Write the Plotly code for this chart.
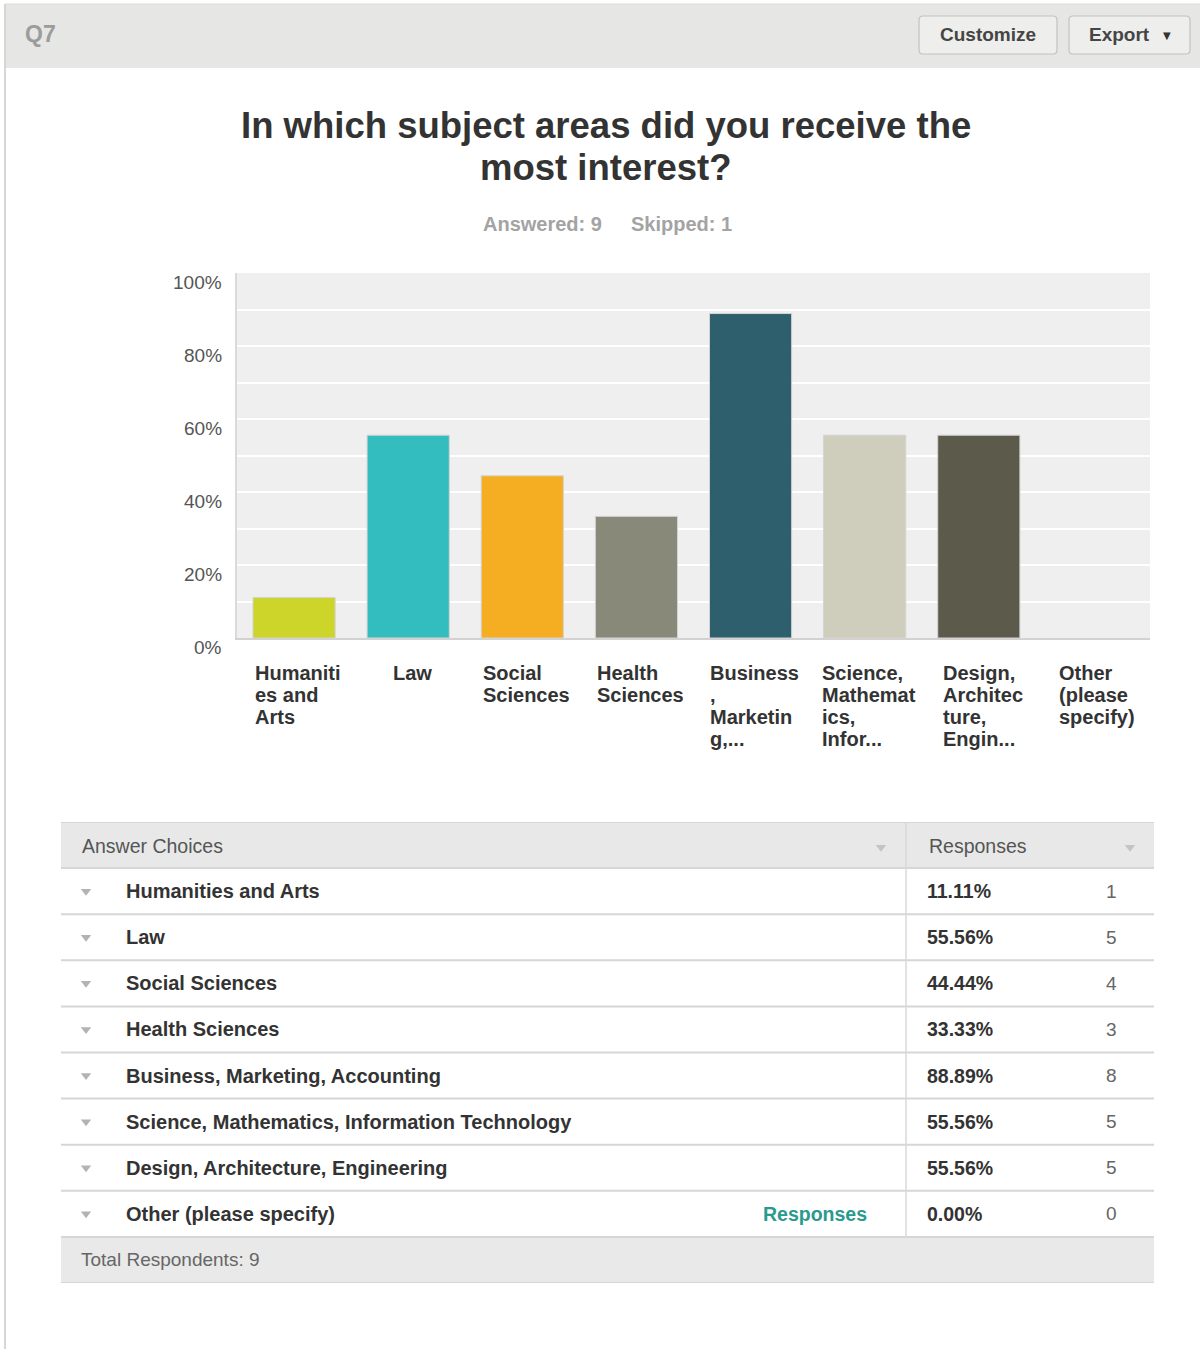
import plotly.graph_objects as go

# ---------------------------------------------------------------- data
categories = [
    "Humanities and Arts",
    "Law",
    "Social Sciences",
    "Health Sciences",
    "Business, Marketing, Accounting",
    "Science, Mathematics, Information Technology",
    "Design, Architecture, Engineering",
    "Other (please specify)",
]
axis_labels = [
    "Humaniti<br>es and<br>Arts",
    "Law",
    "Social<br>Sciences",
    "Health<br>Sciences",
    "Business<br>,<br>Marketin<br>g,...",
    "Science,<br>Mathemat<br>ics,<br>Infor...",
    "Design,<br>Architec<br>ture,<br>Engin...",
    "Other<br>(please<br>specify)",
]
percent = [11.11, 55.56, 44.44, 33.33, 88.89, 55.56, 55.56, 0.00]
counts = [1, 5, 4, 3, 8, 5, 5, 0]
bar_colors = ["#cdd42a", "#33bdbe", "#f5ae21", "#89897a",
              "#2e5f6d", "#cfcdbb", "#5c5a4b", "#8fa6b0"]
y_ticks = [0, 20, 40, 60, 80, 100]
answered, skipped = 9, 1
total_respondents = 9
question_id = "Q7"
title_lines = ["In which subject areas did you receive the", "most interest?"]

# ---------------------------------------------------------------- page geometry (pixels)
W, H = 1200, 1349
PLOT_L, PLOT_R, PLOT_T, PLOT_B = 237, 1150, 273, 638
TAB_L, TAB_R, TAB_T, TAB_B = 61, 1154, 822, 1283
N_ROWS = len(categories) + 2          # header + answers + total
COL_SPLIT = 906

FONT = "Liberation Sans, Arial, Helvetica, sans-serif"


def fx(x):
    return x / W


def fy(y):
    return 1 - y / H


def rounded_rect(x0, y0, x1, y1, r):
    """SVG path in paper units for a rounded rectangle given in pixels."""
    pts = [
        f"M {fx(x0 + r)} {fy(y0)}",
        f"L {fx(x1 - r)} {fy(y0)}",
        f"Q {fx(x1)} {fy(y0)} {fx(x1)} {fy(y0 + r)}",
        f"L {fx(x1)} {fy(y1 - r)}",
        f"Q {fx(x1)} {fy(y1)} {fx(x1 - r)} {fy(y1)}",
        f"L {fx(x0 + r)} {fy(y1)}",
        f"Q {fx(x0)} {fy(y1)} {fx(x0)} {fy(y1 - r)}",
        f"L {fx(x0)} {fy(y0 + r)}",
        f"Q {fx(x0)} {fy(y0)} {fx(x0 + r)} {fy(y0)}",
        "Z",
    ]
    return " ".join(pts)


fig = go.Figure()

# ---------------------------------------------------------------- bar chart
fig.add_trace(go.Bar(
    x=categories,
    y=percent,
    marker=dict(color=bar_colors,
                line=dict(color="#d4d4d4", width=[1 if v > 0 else 0 for v in percent])),
    hoverinfo="skip",
    xaxis="x", yaxis="y",
))

# ---------------------------------------------------------------- table markers (row arrows)
fig.add_trace(go.Scatter(
    x=[86] * len(categories),
    y=[i + 1.5 for i in range(len(categories))],
    mode="markers",
    marker=dict(symbol="triangle-down", size=9, color="#b3b3b3"),
    hoverinfo="skip",
    xaxis="x2", yaxis="y2",
))
fig.add_trace(go.Scatter(
    x=[881, 1130],
    y=[0.55, 0.55],
    mode="markers",
    marker=dict(symbol="triangle-down", size=9, color="#c4c4c4"),
    hoverinfo="skip",
    xaxis="x2", yaxis="y2",
))

shapes = []
annotations = []

# ---------------------------------------------------------------- page frame and header strip
shapes.append(dict(type="rect", xref="paper", yref="paper",
                   x0=fx(5), x1=fx(W), y0=fy(68), y1=fy(4),
                   fillcolor="#e6e6e4", line=dict(width=0), layer="below"))
shapes.append(dict(type="line", xref="paper", yref="paper",
                   x0=fx(5), x1=fx(W), y0=fy(4), y1=fy(4),
                   line=dict(color="#dadada", width=1)))
shapes.append(dict(type="line", xref="paper", yref="paper",
                   x0=fx(5), x1=fx(5), y0=fy(4), y1=fy(H),
                   line=dict(color="#d6d6d6", width=2)))

annotations.append(dict(xref="paper", yref="paper", x=fx(23), y=fy(34),
                        xanchor="left", yanchor="middle", showarrow=False,
                        text=f"<b>{question_id}</b>",
                        font=dict(family=FONT, size=23, color="#9c9c9c")))

# header buttons
for (bx0, bx1) in [(919, 1057), (1069, 1190)]:
    shapes.append(dict(type="path", xref="paper", yref="paper",
                       path=rounded_rect(bx0, 16, bx1, 54, 4),
                       fillcolor="#eeeeec", line=dict(color="#c2c2c0", width=1.2)))
annotations.append(dict(xref="paper", yref="paper", x=fx(988), y=fy(35),
                        xanchor="center", yanchor="middle", showarrow=False,
                        text="<b>Customize</b>",
                        font=dict(family=FONT, size=19, color="#454545")))
annotations.append(dict(xref="paper", yref="paper", x=fx(1087), y=fy(35),
                        xanchor="left", yanchor="middle", showarrow=False,
                        text="<b>Export</b>",
                        font=dict(family=FONT, size=19, color="#454545")))
annotations.append(dict(xref="paper", yref="paper", x=fx(1167), y=fy(36),
                        xanchor="center", yanchor="middle", showarrow=False,
                        text="▼", font=dict(family="DejaVu Sans", size=10, color="#333333")))

# ---------------------------------------------------------------- titles
for i, line in enumerate(title_lines):
    annotations.append(dict(xref="paper", yref="paper", x=0.505, y=fy(125 + 42 * i),
                            xanchor="center", yanchor="middle", showarrow=False,
                            text=f"<b>{line}</b>",
                            font=dict(family=FONT, size=36.5, color="#333333")))

annotations.append(dict(xref="paper", yref="paper", x=fx(604), y=fy(224),
                        xanchor="right", yanchor="middle", showarrow=False,
                        text=f"<b>Answered: {answered}</b>",
                        font=dict(family=FONT, size=20, color="#a3a3a3")))
annotations.append(dict(xref="paper", yref="paper", x=fx(629), y=fy(224),
                        xanchor="left", yanchor="middle", showarrow=False,
                        text=f"<b>Skipped: {skipped}</b>",
                        font=dict(family=FONT, size=20, color="#a3a3a3")))

# ---------------------------------------------------------------- y tick labels (sit just below grid lines)
for t in y_ticks:
    annotations.append(dict(xref="paper", yref="y", x=fx(224), y=t,
                            xanchor="right", yanchor="middle", yshift=-9,
                            showarrow=False, text=f"{t}%",
                            font=dict(family=FONT, size=19, color="#555555")))

# ---------------------------------------------------------------- category labels under the bars
for cat, lab in zip(categories, axis_labels):
    annotations.append(dict(xref="x", yref="paper", x=cat, y=fy(660),
                            xanchor="center", yanchor="top", align="left",
                            xshift=4, showarrow=False,
                            text=f"<span style='font-size:20px'><b>{lab}</b></span>",
                            font=dict(family=FONT, size=17, color="#333333")))

# ---------------------------------------------------------------- table
# body, header and footer fills
shapes.append(dict(type="rect", xref="x2", yref="y2", x0=TAB_L, x1=TAB_R, y0=0, y1=N_ROWS,
                   fillcolor="#ffffff", line=dict(width=0), layer="below"))
shapes.append(dict(type="rect", xref="x2", yref="y2", x0=TAB_L, x1=TAB_R, y0=0, y1=1,
                   fillcolor="#e8e8e8", line=dict(width=0), layer="below"))
shapes.append(dict(type="rect", xref="x2", yref="y2", x0=TAB_L, x1=TAB_R,
                   y0=N_ROWS - 1, y1=N_ROWS,
                   fillcolor="#e9e9e9", line=dict(width=0), layer="below"))
# horizontal rules
for r in range(N_ROWS + 1):
    shapes.append(dict(type="line", xref="x2", yref="y2", x0=TAB_L, x1=TAB_R, y0=r, y1=r,
                       line=dict(color="#d6d6d6", width=2)))
# column divider
shapes.append(dict(type="line", xref="x2", yref="y2", x0=COL_SPLIT, x1=COL_SPLIT,
                   y0=0, y1=N_ROWS - 1, line=dict(color="#d9d9d9", width=1.5)))

cell_font = dict(family=FONT, size=20, color="#333333")
head_font = dict(family=FONT, size=19.5, color="#555555")

annotations.append(dict(xref="x2", yref="y2", x=80, y=0.52, xanchor="left",
                        yanchor="middle", showarrow=False, text="Answer Choices",
                        font=head_font))
annotations.append(dict(xref="x2", yref="y2", x=927, y=0.52, xanchor="left",
                        yanchor="middle", showarrow=False, text="Responses",
                        font=head_font))

for i, (name, p, c) in enumerate(zip(categories, percent, counts)):
    yc = i + 1.5
    annotations.append(dict(xref="x2", yref="y2", x=124, y=yc, xanchor="left",
                            yanchor="middle", showarrow=False,
                            text=f"<b>{name}</b>", font=cell_font))
    annotations.append(dict(xref="x2", yref="y2", x=925, y=yc, xanchor="left",
                            yanchor="middle", showarrow=False,
                            text=f"<b>{p:.2f}%</b>",
                            font=dict(family=FONT, size=19.5, color="#333333")))
    annotations.append(dict(xref="x2", yref="y2", x=1111, y=yc, xanchor="center",
                            yanchor="middle", showarrow=False,
                            text=f"{c}", font=dict(family=FONT, size=19, color="#666666")))
    if name.startswith("Other"):
        annotations.append(dict(xref="x2", yref="y2", x=869, y=yc, xanchor="right",
                                yanchor="middle", showarrow=False,
                                text="<b>Responses</b>",
                                font=dict(family=FONT, size=19.5, color="#2a9a8d")))

annotations.append(dict(xref="x2", yref="y2", x=79, y=N_ROWS - 0.5, xanchor="left",
                        yanchor="middle", showarrow=False,
                        text=f"Total Respondents: {total_respondents}",
                        font=dict(family=FONT, size=19, color="#666666")))

# ---------------------------------------------------------------- layout
fig.update_layout(
    width=W, height=H,
    margin=dict(l=0, r=0, t=0, b=0),
    paper_bgcolor="white",
    plot_bgcolor="#efefef",
    showlegend=False,
    bargap=0.28,
    font=dict(family=FONT),
    xaxis=dict(domain=[fx(PLOT_L), fx(PLOT_R)], range=[-0.5, len(categories) - 0.5],
               type="category", showticklabels=False, showgrid=False, zeroline=False,
               showline=True, linecolor="#d2d2d2", linewidth=2, ticks="",
               fixedrange=True, anchor="y"),
    yaxis=dict(domain=[fy(PLOT_B), fy(PLOT_T)], range=[0, 100], dtick=10,
               showticklabels=False, showgrid=True, gridcolor="#ffffff", gridwidth=2,
               zeroline=False, showline=True, linecolor="#dadada", linewidth=2,
               ticks="", fixedrange=True, anchor="x"),
    xaxis2=dict(domain=[fx(TAB_L), fx(TAB_R)], range=[TAB_L, TAB_R], visible=False,
                fixedrange=True, anchor="y2"),
    yaxis2=dict(domain=[fy(TAB_B), fy(TAB_T)], range=[N_ROWS, 0], visible=False,
                fixedrange=True, anchor="x2"),
    shapes=shapes,
    annotations=annotations,
)

fig.write_html("out.html")
